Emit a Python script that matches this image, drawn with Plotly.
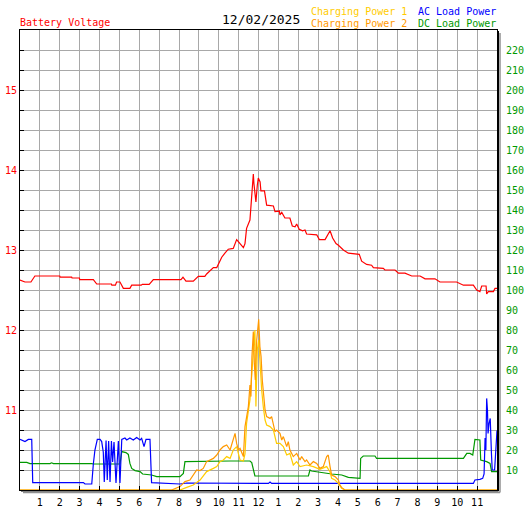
import plotly.graph_objects as go

# ---------------- data (hours of day 0..24) ----------------
volt_h = [0.0, 0.25, 0.55, 0.75, 2.0, 2.02, 2.6, 2.62, 2.99, 3.0, 3.69, 3.86, 4.6, 4.62, 4.8, 4.86, 5.03,
          5.2, 5.53, 5.62, 6.1, 6.15, 6.5, 6.71, 8.1, 8.2, 8.35, 8.72, 8.97, 9.3, 9.39, 9.56, 9.73, 9.9,
          9.98, 10.15, 10.31, 10.48, 10.73, 10.9, 11.07, 11.24, 11.32, 11.4, 11.57, 11.66, 11.74, 11.77,
          11.82, 11.87, 11.94, 11.99, 12.08, 12.12, 12.3, 12.41, 12.75, 12.83, 13.05, 13.08, 13.17, 13.33,
          13.58, 13.7, 13.84, 13.92, 14.05, 14.22, 14.34, 14.42, 14.93, 15.06, 15.35, 15.6, 15.73, 15.9,
          16.02, 16.27, 16.52, 17.07, 17.19, 17.44, 17.69, 17.78, 18.28, 18.36, 18.87, 19.04, 19.37, 19.71,
          20.13, 20.38, 20.88, 21.13, 21.97, 22.31, 22.81, 22.98, 23.14, 23.23, 23.45, 23.48, 23.56, 23.82,
          23.9, 24.0]
volt_v = [12.625, 12.60, 12.60, 12.675, 12.675, 12.66, 12.66, 12.65, 12.65, 12.63, 12.63, 12.575, 12.575,
          12.56, 12.56, 12.60, 12.60, 12.52, 12.52, 12.56, 12.56, 12.57, 12.57, 12.63, 12.63, 12.66, 12.61,
          12.61, 12.67, 12.67, 12.70, 12.74, 12.78, 12.78, 12.825, 12.91, 12.96, 13.01, 13.02, 13.13, 13.08,
          13.03, 13.08, 13.27, 13.375, 13.625, 13.95, 13.83, 13.71, 13.6, 13.81, 13.9, 13.85, 13.74, 13.74,
          13.56, 13.55, 13.48, 13.487, 13.44, 13.47, 13.40, 13.40, 13.30, 13.29, 13.325, 13.26, 13.24, 13.25,
          13.20, 13.19, 13.13, 13.13, 13.24, 13.15, 13.08, 13.06, 13.0, 12.96, 12.945, 12.86, 12.82, 12.81,
          12.78, 12.77, 12.75, 12.75, 12.71, 12.71, 12.675, 12.675, 12.64, 12.64, 12.60, 12.60, 12.56, 12.56,
          12.5, 12.48, 12.55, 12.55, 12.45, 12.48, 12.48, 12.52, 12.52]

chg1_h = [0.0, 8.05, 8.39, 8.72, 9.06, 9.39, 9.73, 9.9, 10.06, 10.23, 10.4, 10.57, 10.73, 10.9, 11.07,
          11.24, 11.32, 11.4, 11.57, 11.66, 11.74, 11.82, 11.87, 11.94, 12.01, 12.07, 12.16, 12.24, 12.33,
          12.41, 12.58, 12.75, 12.91, 13.08, 13.25, 13.42, 13.58, 13.75, 13.92, 14.09, 14.42, 14.76, 15.09,
          15.43, 15.6, 15.68, 15.85, 16.02, 16.18, 16.35, 24.0]
chg1_w = [0, 0, 1.3, 2.5, 5, 9.2, 10.8, 11.7, 14.2, 15, 16.7, 15.8, 20, 21.7, 15, 14.5, 18, 33.3, 45, 58,
          71.7, 80, 41.7, 70, 75, 63, 50, 41.7, 35, 32.5, 31.7, 30, 23.3, 23.3, 21.7, 17.5, 18.3, 12.5, 14.2,
          11.7, 12.5, 11.7, 10.3, 11.7, 9, 5.8, 5, 3.3, 0.8, 0, 0]

chg2_h = [0.0, 7.63, 8.05, 8.3, 8.55, 8.72, 8.89, 9.06, 9.22, 9.39, 9.56, 9.73, 9.9, 10.06, 10.23, 10.4,
          10.57, 10.73, 10.82, 10.9, 10.99, 11.07, 11.15, 11.24, 11.32, 11.4, 11.49, 11.57, 11.62, 11.67,
          11.71, 11.74, 11.79, 11.84, 11.91, 11.96, 12.01, 12.07, 12.13, 12.19, 12.24, 12.33, 12.41, 12.58,
          12.66, 12.75, 12.83, 12.91, 13.08, 13.17, 13.25, 13.42, 13.5, 13.58, 13.75, 13.92, 14.09, 14.17,
          14.34, 14.42, 14.59, 14.76, 14.93, 15.09, 15.26, 15.43, 15.51, 15.6, 15.68, 15.85, 16.02, 16.1,
          16.18, 16.35, 24.0]
chg2_w = [0, 0, 1.7, 4.2, 5, 7.5, 10, 9.7, 10.8, 14.2, 15, 15.8, 17.5, 20, 21.7, 22.5, 20, 25, 28.3, 23.3,
          20, 20.8, 18.3, 16.7, 31.7, 36.7, 41.7, 52.5, 46.7, 66.7, 75, 79.2, 63.3, 55, 75, 80, 85.3, 71.7,
          66.7, 55, 48.3, 40, 36.7, 35.8, 36.7, 31.7, 29.2, 30, 28.3, 25, 26.7, 21.7, 24.2, 20, 16.7, 18.3,
          15, 16.7, 14.2, 15, 12.5, 14.2, 13.3, 10.8, 11.7, 16.7, 17.5, 11.7, 7.5, 6.7, 5, 2.5, 1.3, 0, 0]

ac_h = [0.0, 0.25, 0.42, 0.59, 0.64, 3.19, 3.27, 3.61, 3.69, 3.77, 3.89, 4.03, 4.11, 4.19, 4.24, 4.33,
        4.39, 4.46, 4.53, 4.6, 4.66, 4.73, 4.83, 4.95, 5.03, 5.12, 5.28, 5.37, 5.53, 5.7, 5.87, 6.04, 6.12,
        6.24, 6.34, 6.54, 6.62, 8.05, 8.39, 12.5, 12.58, 12.66, 22.81, 22.89, 23.14, 23.28, 23.35, 23.4,
        23.44, 23.48, 23.52, 23.55, 23.6, 23.66, 23.72, 23.76, 23.88, 23.98, 24.0]
ac_w = [25.3, 24.2, 25.3, 25.3, 3.7, 3.7, 3.0, 3.0, 13, 20, 25.3, 25.3, 24.2, 19, 4, 24.7, 5, 24.5, 4,
        24.5, 14, 24, 3.5, 24.5, 3.5, 25.3, 26, 25, 26, 25, 26.3, 25, 25.8, 21.7, 25.3, 25.3, 3.7, 3.0, 3.5,
        3.3, 4.0, 3.3, 3.3, 5, 5.3, 5.8, 8, 26, 20, 45.8, 40, 28.3, 33.3, 35.8, 18.3, 10, 10, 25, 29.7]

dc_h = [0.0, 0.34, 0.5, 1.51, 1.59, 1.68, 3.61, 3.69, 5.03, 5.12, 5.33, 5.45, 5.53, 5.62, 5.79, 6.04,
        6.17, 6.62, 6.88, 8.05, 8.22, 8.3, 10.57, 11.57, 11.66, 11.74, 11.82, 12.08, 14.51, 14.59, 14.67,
        15.68, 16.19, 16.52, 17.11, 17.14, 17.27, 17.86, 17.94, 22.31, 22.48, 22.64, 22.78, 22.89, 23.14,
        23.18, 23.48, 23.65, 23.73, 24.0]
dc_w = [13.8, 13.8, 13.2, 13.2, 13.6, 13.2, 13.2, 13.0, 13.0, 19.2, 18.7, 17.8, 13.3, 10.8, 9.7, 9.2, 8.0,
        7.5, 6.7, 6.7, 8.3, 14.2, 14.5, 14.5, 13.7, 9.7, 7.0, 7.0, 7.0, 10.0, 9.5, 8.0, 7.5, 6.3, 5.8, 15.8,
        17.0, 17.0, 15.8, 15.8, 18.3, 18.3, 17.5, 25.3, 25.0, 15.0, 14.2, 13.3, 9.2, 9.2]

hour_ticks = list(range(1, 24))
hour_labels = [str(h) for h in range(1, 13)] + [str(h) for h in range(1, 12)]
volt_ticks = [10 + 0.25 * i for i in range(1, 23)]
volt_labels = [str(int(v)) if abs(v - round(v)) < 1e-9 else "" for v in volt_ticks]
power_ticks = list(range(10, 230, 10))

RED = "#ff0000"
BLUE = "#0000ff"
GREEN = "#009900"
GOLD = "#ffcc00"
ORANGE = "#ff9900"
GRID = "#a8a8a8"
FONT = "DejaVu Sans Mono"

fig = go.Figure()
fig.add_trace(go.Scatter(x=dc_h, y=dc_w, mode="lines", line=dict(color=GREEN, width=1.2), yaxis="y2"))
fig.add_trace(go.Scatter(x=ac_h, y=ac_w, mode="lines", line=dict(color=BLUE, width=1.2), yaxis="y2"))
fig.add_trace(go.Scatter(x=chg1_h, y=chg1_w, mode="lines", line=dict(color=GOLD, width=1.2), yaxis="y2"))
fig.add_trace(go.Scatter(x=chg2_h, y=chg2_w, mode="lines", line=dict(color=ORANGE, width=1.2), yaxis="y2"))
fig.add_trace(go.Scatter(x=volt_h, y=volt_v, mode="lines", line=dict(color=RED, width=1.2), yaxis="y"))

W, H = 527, 510
L, R, T, B = 20, 30, 30, 20
pw, ph = W - L - R, H - T - B


def px(x):
    return (x - L) / pw


def py(y):
    return (H - B - y) / ph


fig.update_layout(
    width=W, height=H, autosize=False,
    margin=dict(l=L, r=R, t=T, b=B, pad=0, autoexpand=False),
    paper_bgcolor="white", plot_bgcolor="white",
    showlegend=False,
    font=dict(family=FONT, size=10, color="black"),
    xaxis=dict(range=[0, 24], tickvals=hour_ticks, ticktext=hour_labels, showgrid=True, gridcolor=GRID,
               gridwidth=1, ticks="inside", ticklen=4, tickcolor="black", showline=True, linecolor="black",
               linewidth=1, mirror=True, zeroline=False, automargin=False,
               tickfont=dict(family=FONT, size=10, color="black"), ticklabelstandoff=3),
    yaxis=dict(range=[10, 15.75], tickvals=volt_ticks, ticktext=volt_labels, showgrid=True, gridcolor=GRID,
               gridwidth=1, ticks="inside", ticklen=4, tickcolor="black", showline=True, linecolor="black",
               linewidth=1, mirror=True, zeroline=False, automargin=False,
               tickfont=dict(family=FONT, size=10, color=RED)),
    yaxis2=dict(range=[0, 230], tickvals=power_ticks, overlaying="y", side="right", showgrid=False,
                zeroline=False, ticks="", showline=False, ticklabelstandoff=8, automargin=False,
                tickfont=dict(family=FONT, size=10, color=GREEN)),
)

# drop shadow of the plot frame
fig.add_shape(type="line", xref="paper", yref="paper", x0=px(498.5), x1=px(498.5), y0=py(31), y1=py(491),
              line=dict(color="black", width=1))
fig.add_shape(type="line", xref="paper", yref="paper", x0=px(21), x1=px(498.5), y0=py(491), y1=py(491),
              line=dict(color="black", width=1))
fig.add_shape(type="line", xref="paper", yref="paper", x0=px(500), x1=px(500), y0=py(33), y1=py(492.5),
              line=dict(color="#909090", width=1.5))
fig.add_shape(type="line", xref="paper", yref="paper", x0=px(23), x1=px(500), y0=py(492.5), y1=py(492.5),
              line=dict(color="#909090", width=1.5))

ann = [
    ("Battery Voltage", 19, 23, "left", RED, 10),
    ("12/02/2025", 261, 20, "center", "black", 13),
    ("Charging Power 1", 310, 11.5, "left", GOLD, 10),
    ("Charging Power 2", 310, 23.5, "left", ORANGE, 10),
    ("AC Load Power", 417, 11.5, "left", BLUE, 10),
    ("DC Load Power", 417, 23.5, "left", GREEN, 10),
]
for text, x, y, anchor, color, size in ann:
    fig.add_annotation(text=text, xref="paper", yref="paper", x=px(x), y=py(y), xanchor=anchor,
                       yanchor="middle", showarrow=False, borderpad=0,
                       font=dict(family=FONT, size=size, color=color))

fig.write_html("out.html", config={"displayModeBar": False},
               post_script="document.body.style.margin='0';document.body.style.overflow='hidden';")
